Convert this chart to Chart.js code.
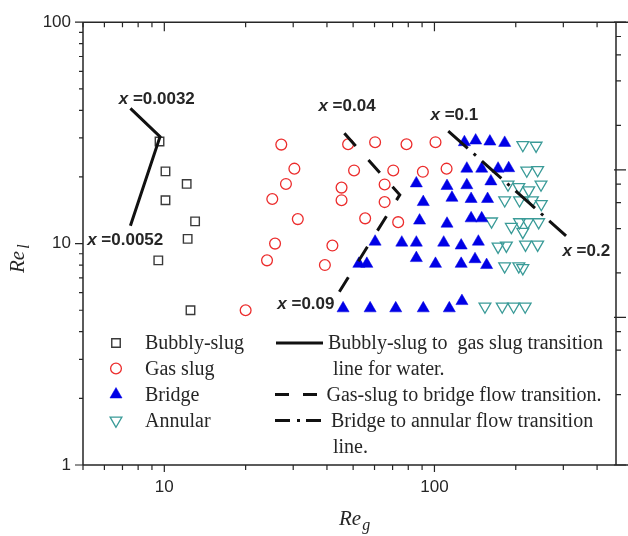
<!DOCTYPE html>
<html>
<head>
<meta charset="utf-8">
<title>Flow regime map</title>
<script src="https://cdn.jsdelivr.net/npm/chart.js@4.4.1/dist/chart.umd.min.js"></script>
<style>
  html, body { margin: 0; padding: 0; background: #fff; }
  #wrap { position: relative; width: 628px; height: 536px; }
</style>
</head>
<body>
<div id="wrap"><canvas id="flowMap" width="628" height="536"></canvas></div>
<script>
// Re_g / Re_l, one pair of arrays per flow regime
const bubblyReG = [9.6, 10.1, 12.1, 10.1, 13.0, 12.2, 9.5, 12.5];
const bubblyReL = [28.9, 21.2, 18.6, 15.7, 12.6, 10.5, 8.4, 5.0];

const gasSlugReG = [27.1, 30.3, 28.2, 25.1, 31.2, 25.7, 24.0, 20.0, 47.9, 60.3, 78.8, 100.9,
  50.4, 70.4, 90.6, 110.9, 65.4, 45.3, 45.3, 65.4, 55.4, 73.4, 41.9, 39.3];
const gasSlugReL = [28.0, 21.8, 18.6, 15.9, 12.9, 10.0, 8.4, 5.0, 28.1, 28.7, 28.1, 28.7,
  21.4, 21.4, 21.1, 21.8, 18.5, 17.9, 15.7, 15.4, 13.0, 12.5, 9.8, 8.0];

const bridgeReG = [85.7, 111.3, 116.1, 90.9, 88.1, 111.3, 60.3, 75.7, 85.7, 108.2, 125.6,
  52.5, 56.2, 85.7, 100.9, 125.6, 45.9, 57.8, 71.9, 90.9, 113.5, 126.4,
  129.1, 142.1, 160.4, 182.0, 131.8, 149.6, 172.0, 188.3, 131.8, 161.8,
  136.7, 157.3, 136.7, 149.6, 145.4, 141.3, 156.0];
const bridgeReL = [18.7, 18.2, 16.1, 15.4, 12.7, 12.3, 10.2, 10.1, 10.1, 10.1, 9.8,
  8.1, 8.1, 8.6, 8.1, 8.1, 5.1, 5.1, 5.1, 5.1, 5.1, 5.5,
  28.7, 29.2, 28.9, 28.5, 21.8, 21.8, 21.8, 21.9, 18.35, 19.1,
  15.9, 15.9, 13.0, 13.0, 10.2, 8.5, 8.0];

const annularReG = [212.4, 237.8, 219.7, 241.0, 187.2, 205.3, 223.4, 248.0, 182.0, 206.5,
  230.5, 248.6, 162.7, 192.6, 206.5, 221.5, 243.1, 212.4, 172.0, 184.6, 217.3, 241.0,
  182.0, 205.3, 212.4, 153.8, 178.2, 196.3, 216.7];
const annularReL = [27.9, 27.7, 21.4, 21.5, 18.5, 18.0, 17.4, 18.5, 15.7, 15.7,
  15.7, 15.1, 12.6, 11.9, 12.5, 12.5, 12.5, 11.3, 9.7, 9.8, 9.9, 9.9,
  7.9, 7.9, 7.75, 5.2, 5.2, 5.2, 5.2];

// transition lines
const bubblyLineReG = [7.49, 9.64, 7.49];
const bubblyLineReL = [40.8, 30.4, 12.05];
const bridgeLineReG = [46.4, 74.4, 42.7];
const bridgeLineReL = [31.5, 16.6, 5.6];
const annularLineReG = [112.5, 307];
const annularLineReL = [32.2, 10.85];

// quality labels beside the lines
const qualityLabels = ['0.0032', '0.0052', '0.04', '0.09', '0.1', '0.2'];
const qualityAtReG = [6.78, 5.18, 37.2, 26.2, 96.7, 297.6];
const qualityAtReL = [44.8, 10.3, 41.7, 5.32, 38.1, 9.2];

// tick labels
const reGTicks = [10, 100];
const reLTicks = [1, 10, 100];

const regimeNames = ['Bubbly-slug', 'Gas slug', 'Bridge', 'Annular'];
const lineNames = [
  ['Bubbly-slug to  gas slug transition', 'line for water.'],
  ['Gas-slug to bridge flow transition.'],
  ['Bridge to annular flow transition', 'line.']
];

const SANS = "'Liberation Sans', Arial, sans-serif";
const SERIF = "'Liberation Serif', 'Times New Roman', serif";
const INK = '#262626';

function pairs(xs, ys) {
  return xs.map((x, i) => ({ x: x, y: ys[i] }));
}

function isDecade(v) {
  const l = Math.log10(v);
  return Math.abs(l - Math.round(l)) < 1e-9;
}

// keep only 1..9 x 10^n ticks inside the range
function niceTicks(scale) {
  return scale.ticks.filter(t => {
    if (t.value < scale.min - 1e-9 || t.value > scale.max + 1e-9) return false;
    const e = Math.floor(Math.log10(t.value) + 1e-9);
    const s = t.value / Math.pow(10, e);
    return Math.abs(s - Math.round(s)) < 1e-6;
  });
}

function drawMarker(ctx, ds, x, y) {
  ctx.save();
  ctx.fillStyle = ds.pointBackgroundColor;
  ctx.strokeStyle = ds.pointBorderColor;
  ctx.lineWidth = ds.pointBorderWidth;
  Chart.helpers.drawPoint(ctx, {
    pointStyle: ds.pointStyle,
    radius: ds.pointRadius,
    rotation: ds.pointRotation || 0,
    borderWidth: ds.pointBorderWidth
  }, x, y);
  ctx.restore();
}

const frameAndDecor = {
  id: 'frameAndDecor',
  afterDraw(chart) {
    const { ctx, chartArea: a, scales } = chart;
    const sx = scales.x, sy = scales.y, sy2 = scales.y2;
    ctx.save();

    // frame
    ctx.strokeStyle = INK;
    ctx.lineWidth = 1.5;
    ctx.beginPath();
    ctx.moveTo(a.left, a.top); ctx.lineTo(chart.width, a.top);
    ctx.moveTo(a.left, a.bottom); ctx.lineTo(chart.width, a.bottom);
    ctx.moveTo(a.left, a.top); ctx.lineTo(a.left, a.bottom);
    ctx.moveTo(a.right, a.top); ctx.lineTo(a.right, a.bottom);
    ctx.stroke();

    // tick marks
    ctx.lineWidth = 1.2;
    ctx.beginPath();
    niceTicks(sx).forEach(t => {
      const px = sx.getPixelForValue(t.value);
      const major = isDecade(t.value);
      ctx.moveTo(px, a.bottom); ctx.lineTo(px, a.bottom + (major ? 7 : 5));
      ctx.moveTo(px, a.top); ctx.lineTo(px, a.top + (major ? 9 : 5));
    });
    niceTicks(sy).forEach(t => {
      const py = sy.getPixelForValue(t.value);
      const major = isDecade(t.value);
      ctx.moveTo(a.left, py); ctx.lineTo(a.left - (major ? 8 : 4), py);
    });
    niceTicks(sy2).forEach(t => {
      const py = sy2.getPixelForValue(t.value);
      const major = isDecade(t.value);
      ctx.moveTo(a.right - (major ? 2 : 0), py); ctx.lineTo(a.right + (major ? 10 : 5), py);
    });
    ctx.stroke();

    // axis titles
    ctx.fillStyle = INK;
    ctx.textAlign = 'left';
    ctx.textBaseline = 'alphabetic';
    ctx.font = 'italic 21px ' + SERIF;
    ctx.fillText('Re', 339, 525);
    let w = ctx.measureText('Re').width;
    ctx.font = 'italic 16px ' + SERIF;
    ctx.fillText('g', 339 + w + 1, 530);

    ctx.save();
    ctx.translate(24, 273);
    ctx.rotate(-Math.PI / 2);
    ctx.font = 'italic 21px ' + SERIF;
    ctx.fillText('Re', 0, 0);
    w = ctx.measureText('Re').width;
    ctx.font = 'italic 16px ' + SERIF;
    ctx.fillText('l', w + 2, 5);
    ctx.restore();

    // quality labels
    ctx.textBaseline = 'middle';
    qualityLabels.forEach((q, i) => {
      const px = sx.getPixelForValue(qualityAtReG[i]);
      const py = sy.getPixelForValue(qualityAtReL[i]);
      ctx.font = 'italic bold 17px ' + SANS;
      ctx.fillText('x', px, py);
      const wx = ctx.measureText('x').width;
      ctx.font = 'bold 17px ' + SANS;
      ctx.fillText(' =' + q, px + wx, py);
    });

    // legend, regimes
    const ds = chart.data.datasets;
    const rows = [343, 368.5, 394.5, 420.5];
    ctx.font = '20px ' + SERIF;
    regimeNames.forEach((name, i) => {
      drawMarker(ctx, ds[3 + i], 116, rows[i]);
      ctx.fillStyle = INK;
      ctx.fillText(name, 145, rows[i] + 1);
    });

    // legend, transition lines
    const samples = [
      { y: 343, dash: [], from: 276 },
      { y: 394.5, dash: [14, 14], from: 275 },
      { y: 420.5, dash: [15, 7, 3, 6], from: 275 }
    ];
    const textX = [[328, 333], [326.5], [331, 333]];
    const textY = [[343, 369], [395], [421, 446.5]];
    samples.forEach((s, i) => {
      ctx.save();
      ctx.strokeStyle = '#111';
      ctx.lineWidth = 3;
      ctx.setLineDash(s.dash);
      ctx.beginPath();
      ctx.moveTo(s.from, s.y); ctx.lineTo(323, s.y);
      ctx.stroke();
      ctx.restore();
      lineNames[i].forEach((t, k) => {
        ctx.fillStyle = INK;
        ctx.fillText(t, textX[i][k], textY[i][k] + 1);
      });
    });

    ctx.restore();
  }
};

new Chart(document.getElementById('flowMap'), {
  type: 'scatter',
  data: {
    datasets: [
      {
        label: 'Bubbly-slug to gas slug transition line for water.',
        data: pairs(bubblyLineReG, bubblyLineReL),
        showLine: true, pointRadius: 0, borderColor: '#111', borderWidth: 3
      },
      {
        label: 'Gas-slug to bridge flow transition.',
        data: pairs(bridgeLineReG, bridgeLineReL),
        showLine: true, pointRadius: 0, borderColor: '#111', borderWidth: 3,
        borderDash: [17, 19]
      },
      {
        label: 'Bridge to annular flow transition line.',
        data: pairs(annularLineReG, annularLineReL),
        showLine: true, pointRadius: 0, borderColor: '#111', borderWidth: 3,
        borderDash: [26, 8, 3, 8]
      },
      {
        label: regimeNames[0],
        data: pairs(bubblyReG, bubblyReL),
        pointStyle: 'rect', pointRadius: 6, pointBorderWidth: 1.4,
        pointBorderColor: '#3a3a3a', pointBackgroundColor: 'rgba(0,0,0,0)'
      },
      {
        label: regimeNames[1],
        data: pairs(gasSlugReG, gasSlugReL),
        pointStyle: 'circle', pointRadius: 5.4, pointBorderWidth: 1.3,
        pointBorderColor: '#ec2d2d', pointBackgroundColor: 'rgba(0,0,0,0)'
      },
      {
        label: regimeNames[2],
        data: pairs(bridgeReG, bridgeReL),
        pointStyle: 'triangle', pointRadius: 7, pointBorderWidth: 0.5,
        pointBorderColor: '#0000e6', pointBackgroundColor: '#0000e6'
      },
      {
        label: regimeNames[3],
        data: pairs(annularReG, annularReL),
        pointStyle: 'triangle', pointRotation: 180, pointRadius: 6.8, pointBorderWidth: 1.3,
        pointBorderColor: '#3a9b98', pointBackgroundColor: 'rgba(0,0,0,0)'
      }
    ]
  },
  options: {
    responsive: false,
    animation: false,
    events: [],
    layout: { padding: { top: 19.5, right: 5.3, left: 0, bottom: 0 } },
    plugins: { legend: { display: false }, tooltip: { enabled: false } },
    scales: {
      x: {
        type: 'logarithmic',
        position: 'bottom',
        min: 5,
        max: 470,
        grid: { display: false, drawTicks: false },
        border: { display: false },
        afterFit: s => { s.height = 71; },
        ticks: {
          autoSkip: false,
          maxRotation: 0,
          padding: 12,
          color: INK,
          font: { family: SANS, size: 17 },
          callback: v => reGTicks.includes(v) ? String(v) : ''
        }
      },
      y: {
        type: 'logarithmic',
        position: 'left',
        min: 1,
        max: 100,
        grid: { display: false, drawTicks: false },
        border: { display: false },
        afterFit: s => { s.width = 83; },
        ticks: {
          autoSkip: false,
          padding: 12,
          color: INK,
          font: { family: SANS, size: 17 },
          callback: v => reLTicks.includes(v) ? String(v) : ''
        }
      },
      y2: {
        type: 'logarithmic',
        position: 'right',
        min: 1,
        max: 1000,
        display: false
      }
    }
  },
  plugins: [frameAndDecor]
});
</script>
</body>
</html>
